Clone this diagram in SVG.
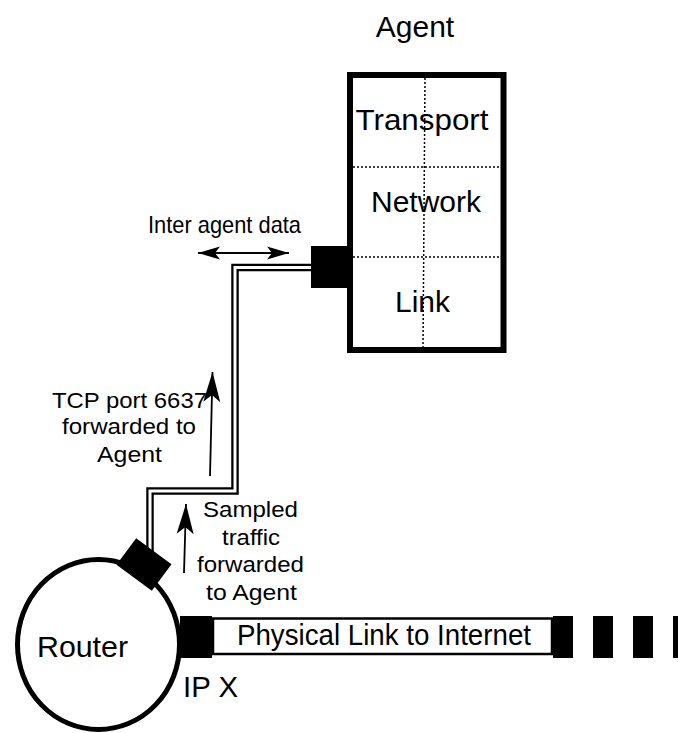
<svg xmlns="http://www.w3.org/2000/svg" width="678" height="733" viewBox="0 0 678 733">
<style>
text{font-family:"Liberation Sans",Arial,sans-serif;fill:#000}
.big{font-size:30px}
.small{font-size:22px}
.blk{fill:#000}
.dot{stroke:#000;stroke-width:1.5;stroke-dasharray:2 2;fill:none}
.shaft{stroke:#000;stroke-width:1.8;fill:none}
</style>
<defs>
<marker id="headL" markerUnits="userSpaceOnUse" markerWidth="40" markerHeight="30" refX="0" refY="0" viewBox="-32 -15 40 30" orient="auto">
<path d="M0,0 L-30,-8.5 L-23,0 L-30,8.5 Z" fill="#000"/>
</marker>
<marker id="headS" markerUnits="userSpaceOnUse" markerWidth="40" markerHeight="30" refX="0" refY="0" viewBox="-32 -15 40 30" orient="auto">
<path d="M0,0 L-22,-6.5 L-17,0 L-22,6.5 Z" fill="#000"/>
</marker>
</defs>
<rect width="678" height="733" fill="#fff"/>

<g id="connectors">
<polyline points="311,267.5 235,267.5 235,491 150,491 150,552" fill="none" stroke="#000" stroke-width="7.5"/>
<polyline points="313,267.5 235,267.5 235,491 150,491 150,554" fill="none" stroke="#fff" stroke-width="3"/>
<line class="shaft" x1="210" y1="476" x2="212.5" y2="372" marker-end="url(#headL)"/>
<line class="shaft" x1="184" y1="573" x2="186" y2="504" marker-end="url(#headL)"/>
<line class="shaft" x1="205" y1="253" x2="289" y2="253" marker-end="url(#headS)"/>
<line class="shaft" x1="280" y1="253" x2="198" y2="253" marker-end="url(#headS)"/>
</g>

<g id="agent">
<text class="big" x="415" y="37" text-anchor="middle">Agent</text>
<rect x="350" y="75" width="153.5" height="275" fill="#fff" stroke="#000" stroke-width="6"/>
<line class="dot" x1="353" y1="167" x2="501" y2="167"/>
<line class="dot" x1="353" y1="257" x2="501" y2="257"/>
<line class="dot" x1="425" y1="78" x2="423" y2="347"/>
<text class="big" x="422" y="130" text-anchor="middle" textLength="133" lengthAdjust="spacingAndGlyphs">Transport</text>
<text class="big" x="426" y="212" text-anchor="middle">Network</text>
<text class="big" x="422.5" y="312" text-anchor="middle">Link</text>
<rect class="blk" x="311" y="246" width="37" height="42"/>
</g>

<g id="router">
<ellipse cx="98.5" cy="644.5" rx="81" ry="85" fill="#fff" stroke="#000" stroke-width="5"/>
<text x="82.5" y="657" font-size="29" text-anchor="middle" textLength="91" lengthAdjust="spacingAndGlyphs">Router</text>
<rect class="blk" x="-22" y="-16.5" width="44" height="33" transform="translate(144,564.5) rotate(36.6)"/>
<text x="183" y="697" font-size="29" textLength="55" lengthAdjust="spacingAndGlyphs">IP X</text>
</g>

<g id="physical-link">
<rect class="blk" x="180" y="616" width="32" height="42"/>
<rect x="213" y="618.5" width="339" height="35.5" fill="#fff" stroke="#000" stroke-width="2.5"/>
<text x="237" y="645" font-size="30" textLength="294" lengthAdjust="spacingAndGlyphs">Physical Link to Internet</text>
<rect class="blk" x="553" y="616" width="20" height="42"/>
<rect class="blk" x="593" y="616" width="20" height="42"/>
<rect class="blk" x="633" y="616" width="20" height="42"/>
<rect class="blk" x="673" y="616" width="5" height="42"/>
</g>

<g id="label-inter-agent">
<text x="148" y="233" font-size="24" textLength="153" lengthAdjust="spacingAndGlyphs">Inter agent data</text>
</g>

<g id="label-tcp">
<text class="small" x="52" y="408" textLength="155" lengthAdjust="spacingAndGlyphs">TCP port 6637</text>
<text class="small" x="62" y="434" textLength="134" lengthAdjust="spacingAndGlyphs">forwarded to</text>
<text class="small" x="97" y="462" textLength="65" lengthAdjust="spacingAndGlyphs">Agent</text>
</g>

<g id="label-sampled">
<text class="small" x="203" y="517" textLength="95" lengthAdjust="spacingAndGlyphs">Sampled</text>
<text class="small" x="222" y="545" textLength="58" lengthAdjust="spacingAndGlyphs">traffic</text>
<text class="small" x="197" y="572" textLength="107" lengthAdjust="spacingAndGlyphs">forwarded</text>
<text class="small" x="206" y="600" textLength="91" lengthAdjust="spacingAndGlyphs">to Agent</text>
</g>
</svg>
